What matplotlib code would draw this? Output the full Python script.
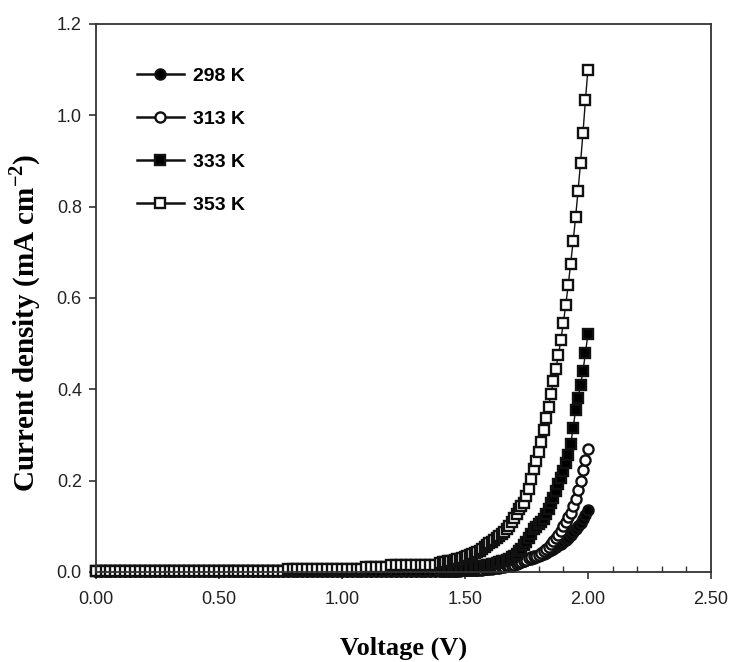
import numpy as np
import matplotlib
matplotlib.use('Agg')
import matplotlib.pyplot as plt
from matplotlib.ticker import MultipleLocator, FormatStrFormatter

plt.rcParams['font.family'] = ['Liberation Sans', 'DejaVu Sans']
plt.rcParams['mathtext.fontset'] = 'custom'
plt.rcParams['mathtext.rm'] = 'Liberation Serif'
plt.rcParams['mathtext.bf'] = 'Liberation Serif:bold'

# voltage sampling (V): coarse on the flat part, finer from 1.4 V
volt_flat = np.linspace(0.00, 1.38, 70)
volt_rise = np.linspace(1.40, 2.00, 61)
voltage = np.concatenate([volt_flat, volt_rise])

labels = ['298 K', '313 K', '333 K', '353 K']

# current density (mA cm-2)
j298_flat = [0.002] * 70
j298_rise = [0.003, 0.003, 0.003, 0.003, 0.003, 0.003, 0.003, 0.003, 0.003, 0.004,
             0.004, 0.004, 0.004, 0.005, 0.005, 0.005, 0.006, 0.006, 0.007, 0.007,
             0.008, 0.009, 0.010, 0.011, 0.012, 0.013, 0.014, 0.015, 0.016, 0.018,
             0.019, 0.020, 0.022, 0.023, 0.025, 0.026, 0.028, 0.029, 0.031, 0.033,
             0.035, 0.037, 0.039, 0.042, 0.045, 0.048, 0.051, 0.054, 0.058, 0.062,
             0.066, 0.070, 0.075, 0.081, 0.087, 0.093, 0.100, 0.108, 0.116, 0.125, 0.135]

j313_flat = [0.002] * 70
j313_rise = [0.003, 0.003, 0.003, 0.003, 0.003, 0.003, 0.003, 0.003, 0.004, 0.004,
             0.004, 0.004, 0.004, 0.004, 0.005, 0.005, 0.005, 0.005, 0.006, 0.006,
             0.007, 0.007, 0.008, 0.008, 0.009, 0.010, 0.011, 0.012, 0.013, 0.014,
             0.016, 0.018, 0.020, 0.022, 0.025, 0.027, 0.030, 0.032, 0.034, 0.035,
             0.037, 0.041, 0.045, 0.050, 0.055, 0.061, 0.068, 0.075, 0.082, 0.090,
             0.100, 0.110, 0.120, 0.130, 0.145, 0.160, 0.180, 0.200, 0.223, 0.245, 0.270]

j333_flat = [0.002] * 70
j333_rise = [0.004, 0.004, 0.005, 0.005, 0.005, 0.005, 0.006, 0.006, 0.007, 0.007,
             0.008, 0.008, 0.009, 0.009, 0.010, 0.011, 0.012, 0.013, 0.014, 0.015,
             0.016, 0.017, 0.018, 0.020, 0.021, 0.023, 0.025, 0.027, 0.029, 0.032,
             0.035, 0.040, 0.045, 0.051, 0.058, 0.066, 0.075, 0.084, 0.094, 0.099,
             0.104, 0.110, 0.117, 0.126, 0.138, 0.150, 0.163, 0.177, 0.192, 0.205,
             0.220, 0.238, 0.257, 0.280, 0.315, 0.355, 0.380, 0.410, 0.440, 0.480, 0.520]

j353_flat = [0.003] * 39 + [0.007] * 16 + [0.011] * 5 + [0.016] * 10
j353_rise = [0.020, 0.021, 0.022, 0.023, 0.024, 0.025, 0.026, 0.028, 0.029, 0.031,
             0.033, 0.035, 0.037, 0.039, 0.041, 0.044, 0.046, 0.050, 0.054, 0.058,
             0.063, 0.066, 0.070, 0.074, 0.078, 0.083, 0.087, 0.093, 0.100, 0.109,
             0.118, 0.127, 0.137, 0.145, 0.152, 0.166, 0.182, 0.204, 0.226, 0.244,
             0.262, 0.285, 0.310, 0.337, 0.362, 0.390, 0.418, 0.445, 0.474, 0.508,
             0.545, 0.585, 0.628, 0.675, 0.724, 0.777, 0.835, 0.896, 0.962, 1.034, 1.100]

j298 = np.array(j298_flat + j298_rise)
j313 = np.array(j313_flat + j313_rise)
j333 = np.array(j333_flat + j333_rise)
j353 = np.array(j353_flat + j353_rise)

fig = plt.figure(figsize=(7.36, 6.62), dpi=100)
ax = fig.add_axes([0.130, 0.136, 0.836, 0.828])

styles = [('o', 'black'), ('o', 'white'), ('s', 'black'), ('s', 'white')]
for j, lab, (mk, fc) in zip([j298, j313, j333, j353], labels, styles):
    ax.plot(voltage, j, color='#111111', lw=1.0, marker=mk, ms=7.3,
            mfc=fc, mec='#111111', mew=1.7, label=lab, clip_on=False)

ax.set_xlim(0, 2.5)
ax.set_ylim(0, 1.2)
ax.xaxis.set_major_locator(MultipleLocator(0.5))
ax.xaxis.set_minor_locator(MultipleLocator(0.1))
ax.yaxis.set_major_locator(MultipleLocator(0.2))
ax.xaxis.set_major_formatter(FormatStrFormatter('%.2f'))
ax.yaxis.set_major_formatter(FormatStrFormatter('%.1f'))

ax.tick_params(axis='both', which='major', direction='out', length=5, width=1.2,
               color='#333333', labelsize=13, labelcolor='#222222')
ax.tick_params(axis='x', which='major', pad=9)
ax.tick_params(axis='y', which='major', pad=5)
ax.tick_params(axis='x', which='minor', direction='in', length=4, width=1.0, color='#333333')
for s in ax.spines.values():
    s.set_linewidth(1.3)
    s.set_color('#333333')

ax.set_xlabel('Voltage (V)', family='Liberation Serif', fontweight='bold',
              fontsize=19, labelpad=20)
ax.set_ylabel(r'Current density (mA cm$^{\mathbf{-2}}$)', family='Liberation Serif',
              fontweight='bold', fontsize=21)
ax.yaxis.set_label_coords(-0.085, 0.455)

leg = ax.legend(loc='upper left', bbox_to_anchor=(0.045, 0.945), frameon=False,
                prop={'family': 'Liberation Sans', 'weight': 'bold', 'size': 14},
                handlelength=2.4, handletextpad=0.5, labelspacing=1.3,
                borderpad=0.2)
for h in leg.legend_handles:
    h.set_linewidth(1.8)

fig.savefig('out.png', dpi=100)
